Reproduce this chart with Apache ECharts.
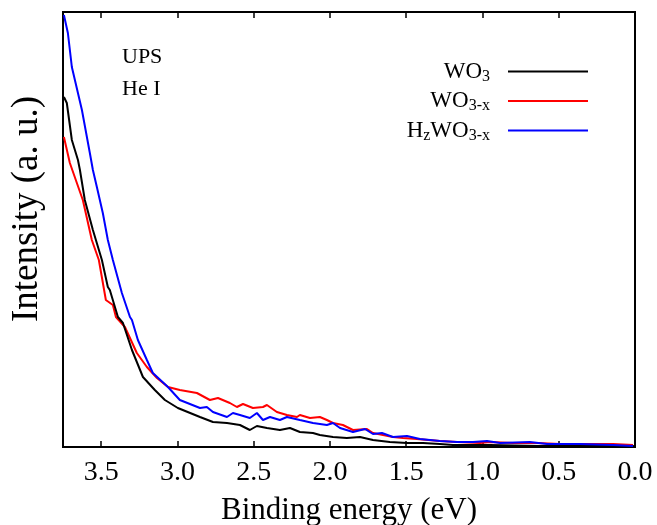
<!DOCTYPE html>
<html>
<head>
<meta charset="utf-8">
<script src="https://cdn.jsdelivr.net/npm/echarts@6/dist/echarts.min.js"></script>
<style>html,body{margin:0;padding:0;background:#fff}#c{width:657px;height:525px}</style>
</head>
<body>
<div id="c"></div>
<script>
// Binding energy (eV) and intensity (a.u.)
const wo3E = [3.744,3.725,3.692,3.672,3.652,3.639,3.607,3.554,3.495,3.456,3.443,3.390,3.357,3.298,3.226,3.148,3.082,2.997,2.852,2.767,2.675,2.590,2.525,2.479,2.413,2.328,2.262,2.197,2.111,2.066,1.980,1.889,1.803,1.718,1.607,1.495,1.390,1.279,1.193,0.951,0.623,0.230,0.007];
const wo3I = [350,344,307,297,287,277,247,217,187,160,157,130,124,97,70,57,47,39,30,25,24,22,17,21,19,17,19,15,14,12,10,9,10,7,5,4,4,3,2,2,1,1,1];

const wo3xE = [3.744,3.705,3.620,3.561,3.515,3.469,3.423,3.403,3.344,3.266,3.200,3.134,3.062,2.984,2.872,2.787,2.734,2.656,2.610,2.570,2.505,2.439,2.413,2.348,2.282,2.216,2.197,2.131,2.066,2.020,1.980,1.915,1.849,1.757,1.718,1.652,1.587,1.521,1.430,1.279,1.167,1.016,0.951,0.800,0.643,0.492,0.144,0.013];
const wo3xI = [310,284,247,207,187,147,142,130,120,94,80,69,60,57,54,47,49,44,40,43,39,40,42,35,32,30,32,29,30,27,24,22,17,18,14,12,10,9,8,6,5,4,5,4,4,3,3,2];

const hzE = [3.744,3.718,3.692,3.626,3.574,3.554,3.528,3.489,3.456,3.423,3.364,3.311,3.298,3.259,3.200,3.161,3.062,2.984,2.852,2.807,2.767,2.675,2.636,2.590,2.525,2.479,2.439,2.393,2.328,2.282,2.197,2.111,2.020,1.980,1.934,1.849,1.770,1.718,1.659,1.587,1.495,1.410,1.279,1.167,1.062,0.970,0.885,0.689,0.577,0.472,0.361,0.144,0.013];
const hzI = [432,414,380,337,294,277,260,234,207,187,154,130,127,107,87,74,60,47,39,40,35,30,34,32,29,34,27,30,27,30,27,24,22,24,19,15,18,13,14,10,11,8,6,5,5,6,4,5,3,3,3,2,1];

const xTicks = ['3.5','3.0','2.5','2.0','1.5','1.0','0.5','0.0'];

const zip = (a, b) => a.map((v, i) => [v, b[i]]);
const serif = '"Liberation Serif", "DejaVu Serif", serif';

const chart = echarts.init(document.getElementById('c'), null, {renderer: 'canvas'});
const rich = {
  n: {fontFamily: serif, fontSize: 23, color: '#000'},
  s: {fontFamily: serif, fontSize: 16, color: '#000', padding: [10, 0, 0, 0]}
};
const legendText = {
  'WO3': '{n|WO}{s|3}',
  'WO3-x': '{n|WO}{s|3-x}',
  'HzWO3-x': '{n|H}{s|z}{n|WO}{s|3-x}'
};
chart.setOption({
  animation: false,
  grid: {left: 63, right: 22, top: 12, bottom: 78, show: true, borderColor: '#000', borderWidth: 2,
    backgroundColor: 'transparent', containLabel: false, outerBoundsMode: 'none'},
  legend: {
    orient: 'vertical', right: 64, top: 55, align: 'right',
    itemWidth: 80, itemHeight: 14, itemGap: 5,
    icon: 'path://M0,6 L80,6 L80,8 L0,8 Z',
    formatter: name => legendText[name],
    textStyle: {rich: rich, fontFamily: serif, fontSize: 23, padding: [0, 13, 0, 0]},
    data: ['WO3', 'WO3-x', 'HzWO3-x']
  },
  xAxis: [{
    type: 'value', min: 0, max: 3.75, interval: 0.5, inverse: true,
    name: 'Binding energy (eV)', nameLocation: 'middle', nameGap: 48,
    nameTextStyle: {fontFamily: serif, fontSize: 31, color: '#000'},
    axisLine: {show: true, lineStyle: {color: '#000', width: 2}},
    axisTick: {show: true, inside: true, length: 6, lineStyle: {color: '#000', width: 1.5}},
    axisLabel: {fontFamily: serif, fontSize: 28, color: '#000', margin: 12, showMaxLabel: false,
      formatter: v => v.toFixed(1)},
    splitLine: {show: false}
  }, {
    type: 'value', min: 0, max: 3.75, interval: 0.5, inverse: true, position: 'top',
    axisLine: {show: true, lineStyle: {color: '#000', width: 2}},
    axisTick: {show: true, inside: true, length: 6, lineStyle: {color: '#000', width: 1.5}},
    axisLabel: {show: false}, splitLine: {show: false}
  }],
  yAxis: {
    type: 'value', min: 0, max: 435,
    axisLine: {show: true, lineStyle: {color: '#000', width: 2}},
    axisTick: {show: false}, axisLabel: {show: false}, splitLine: {show: false}
  },
  graphic: [
    {type: 'text', left: 122, top: 46, style: {text: 'UPS', font: '22px ' + serif, fill: '#000'}},
    {type: 'text', left: 122, top: 78, style: {text: 'He I', font: '22px ' + serif, fill: '#000'}},
    {type: 'text', x: 27, y: 209, rotation: Math.PI / 2,
      style: {text: 'Intensity (a. u.)', font: '37px ' + serif, fill: '#000', align: 'center', verticalAlign: 'middle'}}
  ],
  series: [
    {name: 'WO3', type: 'line', data: zip(wo3E, wo3I), symbol: 'none', lineStyle: {color: '#000', width: 2}, itemStyle: {color: '#000'}, z: 3},
    {name: 'WO3-x', type: 'line', data: zip(wo3xE, wo3xI), symbol: 'none', lineStyle: {color: '#ff0000', width: 2}, itemStyle: {color: '#ff0000'}, z: 2},
    {name: 'HzWO3-x', type: 'line', data: zip(hzE, hzI), symbol: 'none', lineStyle: {color: '#0000ff', width: 2}, itemStyle: {color: '#0000ff'}, z: 4}
  ]
});
</script>
</body>
</html>
